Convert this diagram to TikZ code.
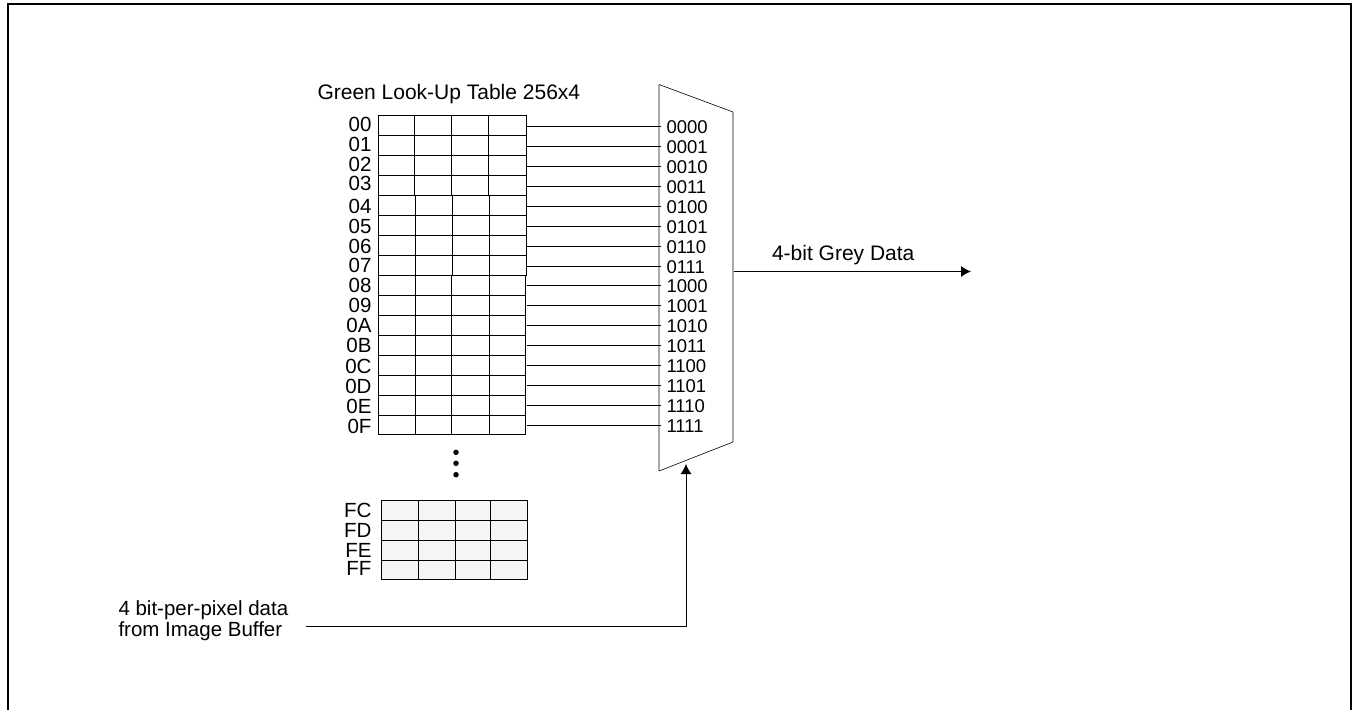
\documentclass[tikz,border=0pt]{standalone}
\usepackage{fontspec}
\setmainfont{Liberation Sans}
\definecolor{muxgrey}{HTML}{A8A8A8}
\definecolor{cellgrey}{HTML}{F5F5F5}
\usetikzlibrary{arrows.meta,positioning}

\begin{document}
\begin{tikzpicture}[
  x=1pt,y=-1pt,
  font=\fontsize{21}{24}\selectfont,
  line width=1pt,
  labeltext/.style={anchor=base west,inner sep=0pt},
  rowlabel/.style={anchor=base east,inner sep=0pt,font=\fontsize{20.5}{24}\selectfont},
  muxlabel/.style={anchor=west,inner sep=0pt,font=\fontsize{18.5}{20}\selectfont},
  grid/.style={draw=black,line width=1pt},
  wire/.style={draw=black,line width=1pt},
  flow/.style={wire,-{Latex[length=10pt,width=11pt]}},
  dotmark/.style={circle,fill=black,inner sep=0pt,minimum size=5.5pt}
]
\useasboundingbox (0,0) rectangle (1358,710);
\draw[line width=2pt] (8,710) -- (8,4) -- (1351,4) -- (1351,710);
\node[labeltext] (title) at (317,99.5) {Green Look-Up Table 256x4};
% table rows 00 to 0F
\foreach \ytop/\ybot/\xa/\xb/\xc/\xd/\xe in
  {115/195/378.5/414.5/451.5/488.5/526,
   195/275/378.5/415.5/452.5/489.5/526.5,
   275/434.5/378.5/415.5/451.5/489.5/525.5}{
  \draw[grid] (\xa,\ytop) rectangle (\xe,\ybot);
  \foreach \xx in {\xb,\xc,\xd} \draw[grid] (\xx,\ytop) -- (\xx,\ybot);
}
\foreach \yy in {135,155,175,215,235,255,295,315,335,355,375,395,415}
  \draw[grid] (378,\yy) -- (526,\yy);
\foreach \name/\ylab in {00/131.5,01/151.5,02/171,03/190,04/213,05/233,06/253,07/272.5,
    08/292.5,09/312.5,0A/332.5,0B/352.5,0C/373,0D/393,0E/413,0F/433}
  \node[rowlabel] (row\name) at (372,\ylab) {\name};
% mux inputs
\draw[draw=muxgrey,line width=1.2pt] (659,84.5) -- (659,471);
\draw[draw=muxgrey,line width=1.2pt] (733,112) -- (733,442);
\draw[line width=0.6pt] (659,84.5) -- (733,112);
\draw[line width=0.6pt] (659,471) -- (733,442);
\foreach \code/\ymid in {0000/126.5,0001/146.5,0010/166.5,0011/186.5,0100/206.5,0101/226.5,
    0110/246.5,0111/266.5,1000/285.5,1001/305.5,1010/325.5,1011/345.5,1100/365.5,
    1101/385.5,1110/405.5,1111/425.5}{
  \node[muxlabel] (mux\code) at (666,\ymid+0.5) {\code};
  \coordinate (cell\code) at (526.5,\ymid);
  \coordinate (pin\code) at (661,\ymid);
  \draw[wire] (cell\code) -- (pin\code);
}
\node[dotmark] (dota) at (456,452.3) {};
\node[dotmark] (dotb) at (456,463.3) {};
\node[dotmark] (dotc) at (456,474.7) {};
% rows FC to FF
\fill[cellgrey] (381,500) rectangle (527,579);
\draw[grid] (381,500) rectangle (527,579);
\foreach \xx in {418,455,490.5} \draw[grid] (\xx,500) -- (\xx,579);
\foreach \yy in {520,540,560} \draw[grid] (381,\yy) -- (527,\yy);
\foreach \name/\ylab in {FC/517,FD/537,FE/557,FF/575.5}
  \node[rowlabel] (row\name) at (372,\ylab) {\name};
% output and select
\coordinate (muxout) at (733.5,271.5);
\coordinate (greyend) at (971,271.5);
\draw[flow] (muxout) -- (greyend);
\node[labeltext] (greylabel) at (771.5,260) {4-bit Grey Data};
\node[labeltext,font=\fontsize{20.5}{24}\selectfont] (pixelone) at (118,615.5) {4 bit-per-pixel data};
\node[labeltext,font=\fontsize{20.5}{24}\selectfont] (pixeltwo) at (118,636) {from Image Buffer};
\coordinate (selstart) at (306,626);
\coordinate (seltip) at (686,464);
\draw[flow] (selstart) -| (seltip);
\end{tikzpicture}
\end{document}
